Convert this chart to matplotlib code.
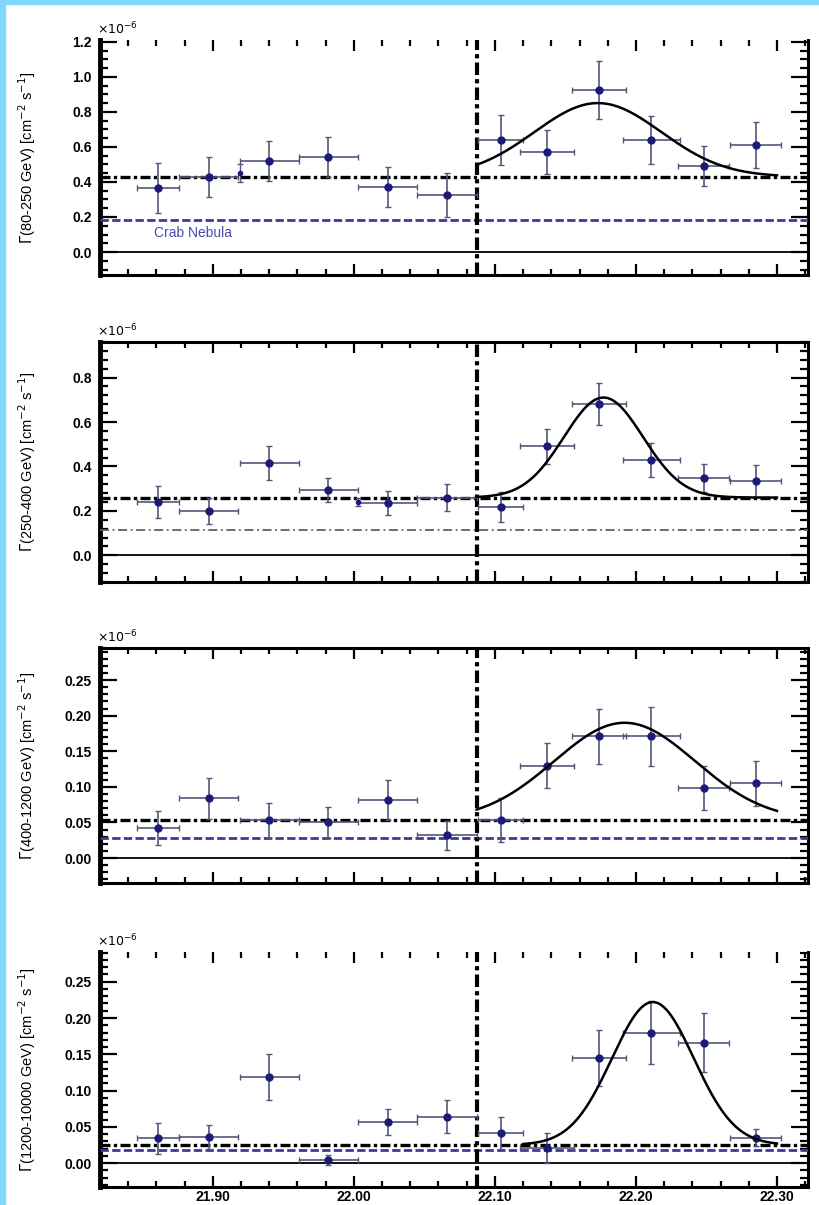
import numpy as np
import matplotlib
matplotlib.use("Agg")
import matplotlib.pyplot as plt
from matplotlib.ticker import MultipleLocator, FormatStrFormatter
from matplotlib.patches import Rectangle

plt.rcParams['font.family'] = ['Liberation Sans', 'DejaVu Sans']

# time bins (centres and half widths)
t_bins = [21.861, 21.897, 21.940, 21.982, 22.024, 22.066,
          22.104, 22.137, 22.174, 22.211, 22.248, 22.285]
t_err = [0.015, 0.021, 0.021, 0.021, 0.021, 0.021,
         0.016, 0.019, 0.019, 0.020, 0.018, 0.018]

# fluxes per energy band
flux1 = [0.366, 0.43, 0.52, 0.54, 0.37, 0.326, 0.64, 0.57, 0.925, 0.64, 0.49, 0.61]
ferr1 = [0.143, 0.114, 0.114, 0.114, 0.114, 0.126, 0.143, 0.126, 0.166, 0.137, 0.114, 0.131]
flux2 = [0.24, 0.20, 0.415, 0.293, 0.235, 0.26, 0.217, 0.49, 0.68, 0.43, 0.35, 0.335]
ferr2 = [0.072, 0.059, 0.077, 0.054, 0.054, 0.059, 0.068, 0.077, 0.095, 0.077, 0.063, 0.072]
flux3 = [0.042, 0.084, 0.053, 0.05, 0.081, 0.032, 0.053, 0.13, 0.171, 0.171, 0.098, 0.105]
ferr3 = [0.024, 0.029, 0.025, 0.022, 0.028, 0.020, 0.031, 0.031, 0.039, 0.041, 0.031, 0.032]
flux4 = [0.034, 0.036, 0.119, 0.004, 0.057, 0.064, 0.041, 0.021, 0.145, 0.18, 0.166, 0.035]
ferr4 = [0.021, 0.017, 0.032, 0.007, 0.018, 0.023, 0.022, 0.021, 0.039, 0.044, 0.041, 0.012]

# small extra points
extra_t = [21.919, 22.003, None, None]
extra_f = [0.45, 0.24, None, None]
extra_e = [0.05, 0.02, None, None]

# constant fit level, crab level, gaussian fit (amp, mean, sigma, start)
const_lvl = [0.43, 0.26, 0.053, 0.025]
crab_lvl = [0.18, 0.113, 0.028, 0.018]
g_amp = [0.42, 0.45, 0.137, 0.197]
g_mu = [22.173, 22.177, 22.192, 22.212]
g_sig = [0.045, 0.028, 0.05, 0.029]
g_start = [22.087, 22.087, 22.087, 22.12]
g_stop = 22.30
t_split = 22.087

ylabels = [r"$\Gamma$(80-250 GeV) [cm$^{-2}$ s$^{-1}$]",
           r"$\Gamma$(250-400 GeV) [cm$^{-2}$ s$^{-1}$]",
           r"$\Gamma$(400-1200 GeV) [cm$^{-2}$ s$^{-1}$]",
           r"$\Gamma$(1200-10000 GeV) [cm$^{-2}$ s$^{-1}$]"]
ylims = [(-0.131, 1.21), (-0.12, 0.96), (-0.035, 0.295), (-0.033, 0.291)]
ymajor = [0.2, 0.2, 0.05, 0.05]
yminor = [0.05, 0.04, 0.01, 0.01]
yfmt = ["%.1f", "%.1f", "%.2f", "%.2f"]
xticks = [21.90, 22.00, 22.10, 22.20, 22.30]

fluxes = [flux1, flux2, flux3, flux4]
errs = [ferr1, ferr2, ferr3, ferr4]

W, H = 820, 1205
fig = plt.figure(figsize=(W / 100, H / 100), dpi=100)

# light blue frame on left and top
fig.patches.append(Rectangle((0, 0), 5 / W, 1, transform=fig.transFigure, color="#80d8ff", zorder=0))
fig.patches.append(Rectangle((0, 1 - 4 / H), 1, 4 / H, transform=fig.transFigure, color="#80d8ff", zorder=0))

# panel pixel boxes: (top, bottom)
boxes = [(40, 275), (342, 582), (648, 883), (952, 1187)]
left_px, right_px = 100, 808

dashdot = (0, (3, 1, 1, 1))

for i in range(4):
    top, bot = boxes[i]
    ax = fig.add_axes([left_px / W, 1 - bot / H, (right_px - left_px) / W, (bot - top) / H])

    ax.errorbar(t_bins, fluxes[i], xerr=t_err, yerr=errs[i], fmt='o', ms=5,
                color="#1c1c78", ecolor="#55557a", elinewidth=1.2, capsize=2.5, zorder=4)
    if extra_t[i] is not None:
        ax.errorbar([extra_t[i]], [extra_f[i]], yerr=[extra_e[i]], fmt='o', ms=3,
                    color="#1c1c78", ecolor="#55557a", elinewidth=1.0, capsize=2, zorder=4)

    ax.axhline(0, color="black", lw=1.3, zorder=2)
    ax.axhline(const_lvl[i], color="black", lw=2.4, ls=dashdot, zorder=3)
    if i == 1:
        ax.axhline(crab_lvl[i], color="#606068", lw=1.3, ls=(0, (5, 2, 1, 2)), zorder=3)
    else:
        ax.axhline(crab_lvl[i], color="#3a3aa0", lw=2.0, ls=(0, (3, 1.2)), zorder=3)
    ax.axvline(t_split, color="black", lw=3.0, ls=dashdot, zorder=3)

    tt = np.linspace(g_start[i], g_stop, 200)
    ax.plot(tt, const_lvl[i] + g_amp[i] * np.exp(-(tt - g_mu[i]) ** 2 / (2 * g_sig[i] ** 2)),
            color="black", lw=1.8, zorder=5)

    ax.set_xlim(21.82, 22.322)
    ax.set_ylim(ylims[i])
    ax.yaxis.set_major_locator(MultipleLocator(ymajor[i]))
    ax.yaxis.set_minor_locator(MultipleLocator(yminor[i]))
    ax.yaxis.set_major_formatter(FormatStrFormatter(yfmt[i]))
    ax.set_xticks(xticks)
    ax.xaxis.set_minor_locator(MultipleLocator(0.02))
    ax.xaxis.set_major_formatter(FormatStrFormatter("%.2f"))

    ax.tick_params(axis='both', which='both', direction='in', top=True, right=True, width=1.6)
    ax.tick_params(axis='y', which='major', length=12, labelsize=10, pad=6)
    ax.tick_params(axis='y', which='minor', length=6)
    ax.tick_params(axis='x', which='major', length=8, labelsize=10, pad=2)
    ax.tick_params(axis='x', which='minor', length=4)
    if i < 3:
        ax.tick_params(axis='x', labelbottom=False)
    for lab in ax.get_xticklabels() + ax.get_yticklabels():
        lab.set_fontweight('bold')

    for s in ax.spines.values():
        s.set_linewidth(2.2)
    ax.spines['left'].set_linewidth(3.5)
    if i in (0, 3):
        ax.spines['top'].set_visible(False)

    ax.set_ylabel(ylabels[i], fontsize=10.5)
    ax.yaxis.set_label_coords(-0.088, 0.5)
    ax.text(-0.004, 1.01, r"$\times 10^{-6}$", transform=ax.transAxes, fontsize=9, ha='left', va='bottom')

    if i == 0:
        ax.text(21.858, 0.085, "Crab Nebula", color="#4a4ab0", fontsize=10, zorder=6)

fig.savefig("out.png", dpi=100)
